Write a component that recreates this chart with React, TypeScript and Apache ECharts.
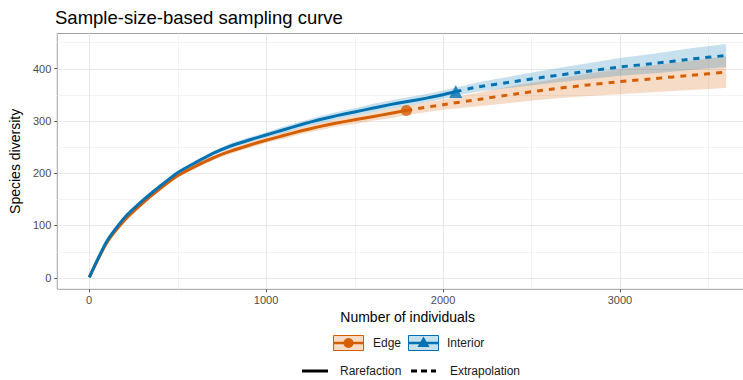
import React, { useEffect, useRef } from "react";
import * as echarts from "echarts";

const titleText = "Sample-size-based sampling curve";
const xAxisTitle = "Number of individuals";
const yAxisTitle = "Species diversity";

const xTicks = [0, 1000, 2000, 3000];
const xMinor = [500, 1500, 2500, 3500];
const yTicks = [0, 100, 200, 300, 400];
const yMinor = [50, 150, 250, 350, 450];

const groups = ["Edge", "Interior"];
const methods = ["Rarefaction", "Extrapolation"];

// Edge — rarefaction
const edgeRareX = [1, 100, 200, 300, 400, 500, 600, 700, 800, 900, 1000, 1100, 1200, 1300, 1400, 1500, 1600, 1700, 1793];
const edgeRareY = [1, 67, 110, 142, 170, 195, 213, 229, 242, 253, 263, 272, 281, 289, 296, 302, 308, 314, 320];
const edgeRareLo = [1, 66, 108, 140, 167, 192, 209, 225, 237, 248, 258, 266, 275, 282, 289, 294, 300, 305, 311];
const edgeRareHi = [1, 68, 112, 144, 173, 198, 217, 233, 247, 258, 268, 278, 287, 296, 303, 310, 316, 323, 329];
// Edge — extrapolation
const edgeExtX = [1793, 2000, 2200, 2400, 2600, 2800, 3000, 3200, 3400, 3600];
const edgeExtY = [320, 331, 341, 351, 360, 368, 375, 381, 387, 393];
const edgeExtLo = [311, 321, 328, 335, 342, 347, 351, 355, 359, 363];
const edgeExtHi = [329, 341, 354, 367, 378, 389, 399, 407, 415, 423];

// Interior — rarefaction
const intRareX = [1, 100, 200, 300, 400, 500, 600, 700, 800, 900, 1000, 1100, 1200, 1300, 1400, 1500, 1600, 1700, 1800, 1900, 2000, 2072];
const intRareY = [1, 70, 115, 147, 175, 201, 220, 238, 252, 263, 273, 283, 293, 302, 310, 317, 324, 331, 337, 343, 350, 356];
const intRareLo = [1, 69, 113, 145, 172, 198, 216, 234, 247, 258, 268, 277, 287, 295, 303, 310, 316, 323, 329, 335, 342, 348];
const intRareHi = [1, 71, 117, 149, 178, 204, 224, 242, 257, 268, 278, 289, 299, 309, 317, 324, 332, 339, 345, 351, 358, 364];
// Interior — extrapolation
const intExtX = [2072, 2200, 2400, 2600, 2800, 3000, 3200, 3400, 3600];
const intExtY = [356, 365, 375, 385, 394, 403, 410, 418, 425];
const intExtLo = [348, 356, 364, 372, 379, 386, 391, 397, 403];
const intExtHi = [364, 374, 386, 398, 409, 420, 429, 439, 447];

// Observed points
const edgeObs = [1793, 320];
const intObs = [2072, 356];

const ORANGE = "#D55E00";
const BLUE = "#0072B2";
const ORANGE_FILL = "rgba(213,94,0,0.22)";
const BLUE_FILL = "rgba(0,114,178,0.22)";
const FONT = "Liberation Sans, Arial, Helvetica, sans-serif";

function pairs(xs: number[], ys: number[]) {
  return xs.map((x, i) => [x, ys[i]]);
}

function bandSeries(xs: number[], lo: number[], hi: number[], fill: string) {
  const data = xs.map((x, i) => [x, lo[i], hi[i]]);
  return {
    type: "custom",
    data,
    z: 2,
    silent: true,
    clip: true,
    encode: { x: 0, y: [1, 2] },
    renderItem: (params: any, api: any) => {
      if (params.dataIndex !== 0) return null;
      const top = data.map((d) => api.coord([d[0], d[2]]));
      const bot = data.map((d) => api.coord([d[0], d[1]])).reverse();
      return {
        type: "polygon",
        shape: { points: top.concat(bot) },
        style: { fill, stroke: null },
      };
    },
  };
}

function gridSeries(values: number[], dir: "x" | "y", color: string) {
  return {
    type: "custom",
    data: values.map((v) => (dir === "x" ? [v, 0] : [0, v])),
    encode: { x: 0, y: 1 },
    z: 0,
    silent: true,
    clip: false,
    renderItem: (params: any, api: any) => {
      const cs = params.coordSys;
      const p = api.coord([api.value(0), api.value(1)]);
      if (dir === "x") {
        const x = Math.round(p[0]) + 0.5;
        return { type: "line", shape: { x1: x, y1: cs.y, x2: x, y2: cs.y + cs.height }, style: { stroke: color, lineWidth: 1 } };
      }
      const y = Math.round(p[1]) + 0.5;
      return { type: "line", shape: { x1: cs.x, y1: y, x2: cs.x + cs.width, y2: y }, style: { stroke: color, lineWidth: 1 } };
    },
  };
}

export default function App() {
  const ref = useRef<HTMLDivElement>(null);
  useEffect(() => {
    if (!ref.current) return;
    const chart = echarts.init(ref.current, null, { renderer: "svg" });

    const edgeBandX = edgeRareX.concat(edgeExtX.slice(1));
    const edgeBandLo = edgeRareLo.concat(edgeExtLo.slice(1));
    const edgeBandHi = edgeRareHi.concat(edgeExtHi.slice(1));
    const intBandX = intRareX.concat(intExtX.slice(1));
    const intBandLo = intRareLo.concat(intExtLo.slice(1));
    const intBandHi = intRareHi.concat(intExtHi.slice(1));

    const option: any = {
      animation: false,
      title: {
        text: titleText,
        left: 55,
        top: 8,
        padding: 0,
        textStyle: { fontSize: 18.5, fontWeight: "normal", color: "#000", fontFamily: FONT },
      },
      grid: {
        left: 55.3,
        top: 33.5,
        right: 0,
        bottom: 380 - 289.3,
        show: true,
        borderColor: "#a0a0a0",
        borderWidth: 1,
        backgroundColor: "#fff",
      },
      xAxis: {
        type: "value",
        min: -180,
        max: 3780,
        name: xAxisTitle,
        nameLocation: "middle",
        nameGap: 14,
        nameTextStyle: { fontSize: 14, color: "#000", fontFamily: FONT, verticalAlign: "top" },
        axisLine: { show: false, onZero: false },
        axisTick: { show: true, length: 3, customValues: xTicks, lineStyle: { color: "#555", width: 1 } },
        axisLabel: { customValues: xTicks, margin: 5, fontSize: 11, color: "#4d4d4d", fontFamily: FONT, formatter: (v: number) => String(v) },
        splitLine: { show: false },
      },
      yAxis: {
        type: "value",
        min: -22,
        max: 467,
        name: yAxisTitle,
        nameLocation: "middle",
        nameGap: 30,
        nameRotate: 90,
        nameTextStyle: { fontSize: 14, color: "#000", fontFamily: FONT },
        axisLine: { show: false, onZero: false },
        axisTick: { show: true, length: 3, customValues: yTicks, lineStyle: { color: "#555", width: 1 } },
        axisLabel: { customValues: yTicks, margin: 6, fontSize: 11, color: "#4d4d4d", fontFamily: FONT, formatter: (v: number) => String(v) },
        splitLine: { show: false },
      },
      series: [
        gridSeries(xMinor, "x", "#f3f3f3"),
        gridSeries(yMinor, "y", "#f3f3f3"),
        gridSeries(xTicks, "x", "#e8e8e8"),
        gridSeries(yTicks, "y", "#e8e8e8"),
        bandSeries(edgeBandX, edgeBandLo, edgeBandHi, ORANGE_FILL),
        bandSeries(intBandX, intBandLo, intBandHi, BLUE_FILL),
        {
          name: groups[0] + " " + methods[0],
          type: "line",
          data: pairs(edgeRareX, edgeRareY),
          showSymbol: false,
          smooth: 0.2,
          z: 3,
          lineStyle: { color: ORANGE, width: 3, cap: "butt", join: "round" },
        },
        {
          name: groups[0] + " " + methods[1],
          type: "line",
          data: pairs(edgeExtX, edgeExtY),
          showSymbol: false,
          smooth: 0.2,
          z: 3,
          lineStyle: { color: ORANGE, width: 3, type: [6, 6], cap: "butt" },
        },
        {
          name: groups[1] + " " + methods[0],
          type: "line",
          data: pairs(intRareX, intRareY),
          showSymbol: false,
          smooth: 0.2,
          z: 3,
          lineStyle: { color: BLUE, width: 3, cap: "butt", join: "round" },
        },
        {
          name: groups[1] + " " + methods[1],
          type: "line",
          data: pairs(intExtX, intExtY),
          showSymbol: false,
          smooth: 0.2,
          z: 3,
          lineStyle: { color: BLUE, width: 3, type: [6, 6], cap: "butt" },
        },
        {
          type: "scatter",
          data: [edgeObs],
          symbol: "circle",
          symbolSize: 11,
          z: 4,
          itemStyle: { color: ORANGE },
        },
        {
          type: "scatter",
          data: [intObs],
          symbol: "triangle",
          symbolSize: 13,
          z: 4,
          itemStyle: { color: BLUE },
        },
      ],
      graphic: [
        // Row 1: groups
        { type: "rect", shape: { x: 333.5, y: 335.5, width: 30, height: 15 }, style: { fill: ORANGE_FILL, stroke: ORANGE, lineWidth: 1 } },
        { type: "line", shape: { x1: 334, y1: 343, x2: 363, y2: 343 }, style: { stroke: ORANGE, lineWidth: 2.5 } },
        { type: "circle", shape: { cx: 348.5, cy: 343, r: 5 }, style: { fill: ORANGE } },
        { type: "text", x: 373, y: 343, style: { text: groups[0], fontSize: 12, fontFamily: FONT, fill: "#1a1a1a", verticalAlign: "middle" } },
        { type: "rect", shape: { x: 408.5, y: 335.5, width: 30, height: 15 }, style: { fill: BLUE_FILL, stroke: BLUE, lineWidth: 1 } },
        { type: "line", shape: { x1: 409, y1: 343, x2: 438, y2: 343 }, style: { stroke: BLUE, lineWidth: 2.5 } },
        { type: "polygon", shape: { points: [[423.5, 336.5], [429.5, 347], [417.5, 347]] }, style: { fill: BLUE } },
        { type: "text", x: 447, y: 343, style: { text: groups[1], fontSize: 12, fontFamily: FONT, fill: "#1a1a1a", verticalAlign: "middle" } },
        // Row 2: methods
        { type: "line", shape: { x1: 302, y1: 371, x2: 328, y2: 371 }, style: { stroke: "#000", lineWidth: 3 } },
        { type: "text", x: 340, y: 371, style: { text: methods[0], fontSize: 12, fontFamily: FONT, fill: "#1a1a1a", verticalAlign: "middle" } },
        { type: "line", shape: { x1: 411, y1: 371, x2: 436, y2: 371 }, style: { stroke: "#000", lineWidth: 3, lineDash: [6, 4] } },
        { type: "text", x: 450, y: 371, style: { text: methods[1], fontSize: 12, fontFamily: FONT, fill: "#1a1a1a", verticalAlign: "middle" } },
      ],
    };
    chart.setOption(option);
    return () => chart.dispose();
  }, []);
  return (
    <div style={{ position: "fixed", left: 0, top: 0, width: 743, height: 380, overflow: "hidden", background: "#fff" }}>
      <div ref={ref} style={{ position: "absolute", left: 0, top: 0, width: 758, height: 380 }} />
    </div>
  );
}
